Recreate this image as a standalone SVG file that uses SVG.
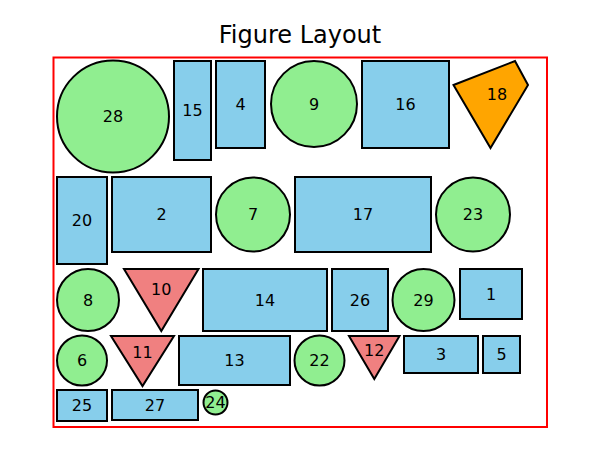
<svg xmlns="http://www.w3.org/2000/svg" width="600" height="450" viewBox="0 0 600 450">
<style>
.r{fill:#87CEEB;stroke:#000;stroke-width:2}
.c{fill:#90EE90;stroke:#000;stroke-width:2}
.t{fill:#F08080;stroke:#000;stroke-width:2;stroke-linejoin:miter}
.o{fill:#FFA500;stroke:#000;stroke-width:2}
text{font-family:"DejaVu Sans",sans-serif;font-size:16px;text-anchor:middle;dominant-baseline:central;fill:#000}
text.title{font-size:24px;dominant-baseline:auto}
</style>
<rect width="600" height="450" fill="#fff"/>
<text class="title" x="300" y="42.5">Figure Layout</text>
<rect x="53.5" y="57.5" width="493.5" height="369.5" fill="none" stroke="#f00" stroke-width="2"/>
<g id="connectors"></g>
<g id="n28"><circle class="c" cx="113" cy="116.5" r="56"/><text x="113" y="116.5">28</text></g>
<g id="n15"><rect class="r" x="174" y="61" width="37" height="99"/><text x="192.5" y="110.5">15</text></g>
<g id="n4"><rect class="r" x="216" y="61" width="49" height="87"/><text x="240.5" y="104">4</text></g>
<g id="n9"><circle class="c" cx="314" cy="104" r="43"/><text x="314" y="104">9</text></g>
<g id="n16"><rect class="r" x="362" y="61" width="87" height="87"/><text x="405.5" y="104">16</text></g>
<g id="n18"><polygon class="o" points="453.5,85 515,61 528,85 490.5,148"/><text x="497" y="94">18</text></g>
<g id="n20"><rect class="r" x="57" y="177" width="50" height="87"/><text x="82" y="220.5">20</text></g>
<g id="n2"><rect class="r" x="112" y="177" width="99" height="75"/><text x="161.5" y="214.5">2</text></g>
<g id="n7"><circle class="c" cx="253" cy="214.5" r="37"/><text x="253" y="214.5">7</text></g>
<g id="n17"><rect class="r" x="295" y="177" width="136" height="75"/><text x="363" y="214.5">17</text></g>
<g id="n23"><circle class="c" cx="473" cy="214.5" r="37"/><text x="473" y="214.5">23</text></g>
<g id="n8"><circle class="c" cx="88" cy="300" r="31"/><text x="88" y="300">8</text></g>
<g id="n10"><polygon class="t" points="124,269 198.5,269 161.3,331"/><text x="161.3" y="289.7">10</text></g>
<g id="n14"><rect class="r" x="203" y="269" width="124" height="62"/><text x="265" y="300">14</text></g>
<g id="n26"><rect class="r" x="332" y="269" width="56" height="62"/><text x="360" y="300">26</text></g>
<g id="n29"><circle class="c" cx="423.5" cy="300" r="31"/><text x="423.5" y="300">29</text></g>
<g id="n1"><rect class="r" x="460" y="269" width="62" height="50"/><text x="491" y="294">1</text></g>
<g id="n6"><circle class="c" cx="82" cy="360.5" r="25"/><text x="82" y="360.5">6</text></g>
<g id="n11"><polygon class="t" points="111,336 174,336 142.5,386"/><text x="142.5" y="352.7">11</text></g>
<g id="n13"><rect class="r" x="179" y="336" width="111" height="49"/><text x="234.5" y="360.5">13</text></g>
<g id="n22"><circle class="c" cx="319.5" cy="360.5" r="25"/><text x="319.5" y="360.5">22</text></g>
<g id="n12"><polygon class="t" points="349,336 399.5,336 374.3,379"/><text x="374.3" y="350.3">12</text></g>
<g id="n3"><rect class="r" x="404" y="336" width="74" height="37"/><text x="441" y="354.5">3</text></g>
<g id="n5"><rect class="r" x="483" y="336" width="37" height="37"/><text x="501.5" y="354.5">5</text></g>
<g id="n25"><rect class="r" x="57" y="390" width="50" height="31"/><text x="82" y="405.5">25</text></g>
<g id="n27"><rect class="r" x="112" y="390" width="86" height="30"/><text x="155" y="405">27</text></g>
<g id="n24"><circle class="c" cx="215.5" cy="402.5" r="12"/><text x="215.5" y="402.5">24</text></g>
</svg>
